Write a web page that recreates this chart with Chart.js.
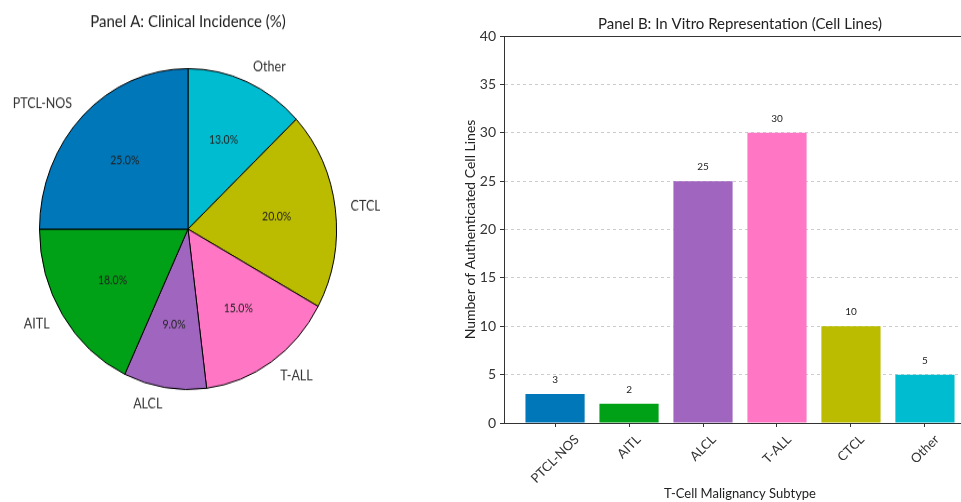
<!DOCTYPE html>
<html>
<head>
<meta charset="utf-8">
<script src="https://cdn.jsdelivr.net/npm/chart.js"></script>
<style>
  html, body {
    margin: 0;
    padding: 0;
    background: #fff;
    width: 961px;
    height: 502px;
    overflow: hidden;
  }
  /* pie panel is slightly stretched vertically in the reference */
  #pieBox {
    position: absolute;
    left: 0;
    top: 0;
    width: 380px;
    height: 420px;
    transform-origin: 0 0;
    transform: scaleY(1.0805);
  }
  #barBox {
    position: absolute;
    left: 440px;
    top: 0;
    width: 600px;
    height: 520px;
  }
</style>
</head>
<body>
<div id="pieBox"><canvas id="pie"></canvas></div>
<div id="barBox"><canvas id="bar"></canvas></div>

<script>
  // Data
  const categories = ['PTCL-NOS', 'AITL', 'ALCL', 'T-ALL', 'CTCL', 'Other'];
  const incidence = [25, 18, 9, 15, 20, 13];        // Panel A, %
  const cellLines = [3, 2, 25, 30, 10, 5];          // Panel B, counts
  const colors = ['#0077b9', '#00a017', '#a066bf', '#ff77c4', '#bbbb00', '#00bcd0'];
  const yTicks = [0, 5, 10, 15, 20, 25, 30, 35, 40];

  const FONT = 'Lato, sans-serif';
  Chart.defaults.font.family = FONT;
  Chart.defaults.color = '#333';
  Chart.defaults.animation = false;

  // matplotlib draws counter-clockwise from the top, Chart.js clockwise
  const pieLabels = [...categories].reverse();
  const pieValues = [...incidence].reverse();
  const pieColors = [...colors].reverse();

  const pieLabelPlugin = {
    id: 'pieLabels',
    afterDatasetsDraw(chart) {
      const ctx = chart.ctx;
      const meta = chart.getDatasetMeta(0);
      meta.data.forEach((arc, i) => {
        const p = arc.getProps(['x', 'y', 'startAngle', 'endAngle', 'outerRadius'], true);
        const r = p.outerRadius + 0.5;
        const mid = (p.startAngle + p.endAngle) / 2;
        const c = Math.cos(mid), s = Math.sin(mid);
        ctx.save();
        ctx.fillStyle = '#222';
        ctx.font = '10.5px ' + FONT;
        ctx.textAlign = 'center';
        ctx.textBaseline = 'middle';
        ctx.fillText(pieValues[i].toFixed(1) + '%', p.x + c * 0.6 * r, p.y + s * 0.6 * r);
        ctx.fillStyle = '#333';
        ctx.font = '12.5px ' + FONT;
        ctx.textAlign = c > 0.001 ? 'left' : (c < -0.001 ? 'right' : 'center');
        ctx.fillText(pieLabels[i], p.x + c * 1.1 * r, p.y + s * 1.1 * r);
        ctx.restore();
      });
    }
  };

  new Chart(document.getElementById('pie'), {
    type: 'pie',
    data: {
      labels: pieLabels,
      datasets: [{
        data: pieValues,
        backgroundColor: pieColors,
        borderColor: '#000',
        borderWidth: 1,
        hoverOffset: 0
      }]
    },
    options: {
      responsive: true,
      maintainAspectRatio: false,
      layout: { padding: { left: 39, right: 43, top: 0, bottom: 59 } },
      plugins: {
        legend: { display: false },
        tooltip: { enabled: false },
        title: {
          display: true,
          text: 'Panel A: Clinical Incidence (%)',
          color: '#222',
          font: { size: 15, weight: 'normal' },
          padding: { top: 11, bottom: 34 }
        }
      }
    },
    plugins: [pieLabelPlugin]
  });

  // Bar panel: spine, value labels and centred rotated category labels
  const barExtras = {
    id: 'barExtras',
    afterDraw(chart) {
      const ctx = chart.ctx;
      const area = chart.chartArea;
      const xs = chart.scales.x;
      ctx.save();
      ctx.strokeStyle = '#333';
      ctx.lineWidth = 1;
      ctx.beginPath();
      ctx.moveTo(area.left, area.top + 0.5);
      ctx.lineTo(area.right, area.top + 0.5);
      ctx.lineTo(area.right - 0.5, area.bottom);
      ctx.stroke();

      const meta = chart.getDatasetMeta(0);
      ctx.fillStyle = '#222';
      ctx.font = '10px ' + FONT;
      ctx.textAlign = 'center';
      ctx.textBaseline = 'middle';
      meta.data.forEach((bar, i) => {
        ctx.fillText(String(cellLines[i]), bar.x, bar.y - 14);
      });

      ctx.font = '13px ' + FONT;
      ctx.fillStyle = '#333';
      categories.forEach((cat, i) => {
        const px = xs.getPixelForValue(i);
        const w = ctx.measureText(cat).width;
        const h = 12;
        const half = (w + h) * Math.SQRT1_2 / 2;
        ctx.save();
        ctx.translate(px, area.bottom + 10 + half);
        ctx.rotate(-Math.PI / 4);
        ctx.fillText(cat, 0, 0);
        ctx.restore();
      });
      ctx.restore();
    }
  };

  new Chart(document.getElementById('bar'), {
    type: 'bar',
    data: {
      datasets: [{
        data: cellLines.map((v, i) => ({ x: i, y: v })),
        backgroundColor: colors,
        borderWidth: 0,
        categoryPercentage: 1,
        barPercentage: 0.8
      }]
    },
    options: {
      responsive: true,
      maintainAspectRatio: false,
      layout: { padding: { left: 22, right: 64, top: 0, bottom: 0 } },
      plugins: {
        legend: { display: false },
        tooltip: { enabled: false },
        title: {
          display: true,
          fullSize: false,
          text: 'Panel B: In Vitro Representation (Cell Lines)',
          color: '#222',
          font: { size: 15, weight: 'normal' },
          padding: { top: 15, bottom: 3 }
        }
      },
      scales: {
        x: {
          type: 'linear',
          offset: false,
          min: -0.69,
          max: 5.69,
          afterBuildTicks: axis => { axis.ticks = categories.map((c, i) => ({ value: i })); },
          afterFit: s => { s.height = 97; },
          ticks: { color: 'transparent', autoSkip: false, maxRotation: 45, minRotation: 45 },
          grid: { offset: false, drawOnChartArea: false, tickLength: 4, tickColor: '#333' },
          border: { color: '#333' },
          title: {
            display: true,
            text: 'T-Cell Malignancy Subtype',
            color: '#222',
            font: { size: 13 },
            padding: { top: 0, bottom: 18 }
          }
        },
        y: {
          min: 0,
          max: 40,
          afterBuildTicks: axis => { axis.ticks = yTicks.map(v => ({ value: v })); },
          afterFit: s => { s.width = 42; },
          ticks: { color: '#333', font: { size: 14 }, padding: 4 },
          grid: {
            color: '#cccccc',
            tickColor: '#333',
            tickLength: 4,
            tickBorderDash: [],
            drawTicks: true
          },
          border: { color: '#333', dash: [3, 3] },
          title: {
            display: true,
            text: 'Number of Authenticated Cell Lines',
            color: '#222',
            font: { size: 14 },
            padding: { top: 0, bottom: 0 }
          }
        }
      }
    },
    plugins: [barExtras]
  });
</script>
</body>
</html>
